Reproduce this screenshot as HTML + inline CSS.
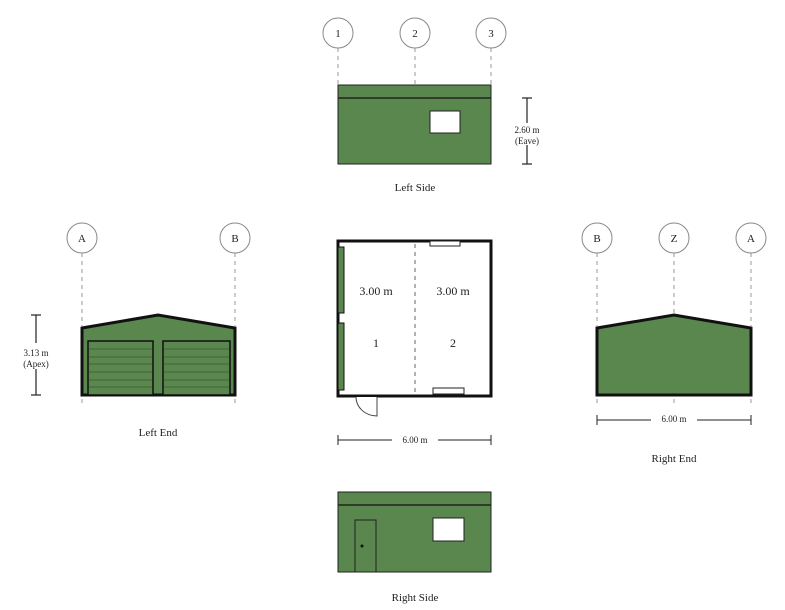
<!DOCTYPE html>
<html><head><style>body{margin:0;background:#fff}svg{display:block}text{font-family:"Liberation Serif",serif;fill:#222}</style></head><body>
<svg width="785" height="610" xmlns="http://www.w3.org/2000/svg">
<g fill="none" stroke="#999" stroke-width="1" stroke-dasharray="4,4">
<line x1="338" y1="48" x2="338" y2="85"/><line x1="415" y1="48" x2="415" y2="85"/><line x1="491" y1="48" x2="491" y2="85"/>
<line x1="82" y1="253" x2="82" y2="326"/><line x1="235" y1="253" x2="235" y2="326"/>
<line x1="82" y1="399" x2="82" y2="406"/><line x1="235" y1="399" x2="235" y2="406"/>
<line x1="597" y1="253" x2="597" y2="326"/><line x1="674" y1="253" x2="674" y2="313"/><line x1="751" y1="253" x2="751" y2="326"/>
<line x1="597" y1="399" x2="597" y2="406"/><line x1="674" y1="399" x2="674" y2="406"/><line x1="751" y1="399" x2="751" y2="406"/>
<line x1="415" y1="244" x2="415" y2="393" stroke="#666"/>
</g>
<g fill="#fff" stroke="#888">
<circle cx="338" cy="33" r="15"/><circle cx="415" cy="33" r="15"/><circle cx="491" cy="33" r="15"/>
<circle cx="82" cy="238" r="15"/><circle cx="235" cy="238" r="15"/>
<circle cx="597" cy="238" r="15"/><circle cx="674" cy="238" r="15"/><circle cx="751" cy="238" r="15"/>
</g>
<g font-size="11" text-anchor="middle">
<text x="338" y="37">1</text><text x="415" y="37">2</text><text x="491" y="37">3</text>
<text x="82" y="242">A</text><text x="235" y="242">B</text>
<text x="597" y="242">B</text><text x="674" y="242">Z</text><text x="751" y="242">A</text>
</g>
<!-- Left side -->
<rect x="338" y="85" width="153" height="79" fill="#5a874d" stroke="#222" stroke-width="1"/>
<line x1="338" y1="98" x2="491" y2="98" stroke="#222" stroke-width="1.5"/>
<rect x="430" y="111" width="30" height="22" fill="#fff" stroke="#222"/>
<g stroke="#222" stroke-width="1.2"><line x1="527" y1="98" x2="527" y2="164"/><line x1="522" y1="98" x2="532" y2="98"/><line x1="522" y1="164" x2="532" y2="164"/></g>
<rect x="512" y="123" width="30" height="22" fill="#fff"/>
<text x="527" y="133" font-size="9" text-anchor="middle">2.60 m</text><text x="527" y="144" font-size="9" text-anchor="middle">(Eave)</text>
<text x="415" y="191" font-size="11" text-anchor="middle">Left Side</text>
<!-- Left end -->
<polygon points="82,328 158,315 235,328 235,395 82,395" fill="#5a874d" stroke="#111" stroke-width="3"/>
<g fill="#5a874d" stroke="#111" stroke-width="1.5"><rect x="88" y="341" width="65" height="54"/><rect x="163" y="341" width="67" height="54"/></g>
<g stroke="#3a5a32" stroke-width="0.8">
<line x1="89" y1="349" x2="152" y2="349"/><line x1="89" y1="357" x2="152" y2="357"/><line x1="89" y1="364" x2="152" y2="364"/><line x1="89" y1="372" x2="152" y2="372"/><line x1="89" y1="380" x2="152" y2="380"/><line x1="89" y1="387" x2="152" y2="387"/>
<line x1="164" y1="349" x2="229" y2="349"/><line x1="164" y1="357" x2="229" y2="357"/><line x1="164" y1="364" x2="229" y2="364"/><line x1="164" y1="372" x2="229" y2="372"/><line x1="164" y1="380" x2="229" y2="380"/><line x1="164" y1="387" x2="229" y2="387"/>
</g>
<g stroke="#222" stroke-width="1.2"><line x1="36" y1="315" x2="36" y2="395"/><line x1="31" y1="315" x2="41" y2="315"/><line x1="31" y1="395" x2="41" y2="395"/></g>
<rect x="20" y="343" width="32" height="26" fill="#fff"/>
<text x="36" y="356" font-size="9" text-anchor="middle">3.13 m</text><text x="36" y="367" font-size="9" text-anchor="middle">(Apex)</text>
<text x="158" y="436" font-size="11" text-anchor="middle">Left End</text>
<!-- Plan -->
<rect x="338" y="241" width="153" height="155" fill="none" stroke="#111" stroke-width="3"/>
<g fill="#5a874d" stroke="#111" stroke-width="1"><rect x="338" y="247" width="6" height="66"/><rect x="338" y="323" width="6" height="67"/></g>
<rect x="430" y="241" width="30" height="5" fill="#fff" stroke="#222"/>
<rect x="433" y="388" width="31" height="6" fill="#fff" stroke="#222"/>
<path d="M377,397 L377,416 A21,19 0 0 1 356,397" fill="#fff" stroke="#444"/>
<g font-size="12" text-anchor="middle"><text x="376" y="295">3.00 m</text><text x="453" y="295">3.00 m</text><text x="376" y="347">1</text><text x="453" y="347">2</text></g>
<g stroke="#222" stroke-width="1"><line x1="338" y1="440" x2="392" y2="440"/><line x1="438" y1="440" x2="491" y2="440"/><line x1="338" y1="435" x2="338" y2="445"/><line x1="491" y1="435" x2="491" y2="445"/></g>
<text x="415" y="443" font-size="9" text-anchor="middle">6.00 m</text>
<!-- Right end -->
<polygon points="597,328 674,315 751,328 751,395 597,395" fill="#5a874d" stroke="#111" stroke-width="3"/>
<g stroke="#222" stroke-width="1"><line x1="597" y1="420" x2="651" y2="420"/><line x1="697" y1="420" x2="751" y2="420"/><line x1="597" y1="415" x2="597" y2="425"/><line x1="751" y1="415" x2="751" y2="425"/></g>
<text x="674" y="422" font-size="9" text-anchor="middle">6.00 m</text>
<text x="674" y="462" font-size="11" text-anchor="middle">Right End</text>
<!-- Right side -->
<rect x="338" y="492" width="153" height="80" fill="#5a874d" stroke="#222"/>
<line x1="338" y1="505" x2="491" y2="505" stroke="#222" stroke-width="1.5"/>
<rect x="355" y="520" width="21" height="52" fill="#5a874d" stroke="#222"/>
<circle cx="362" cy="546" r="1.5" fill="#111"/>
<rect x="433" y="518" width="31" height="23" fill="#fff" stroke="#222"/>
<text x="415" y="601" font-size="11" text-anchor="middle">Right Side</text>
</svg>
</body></html>
